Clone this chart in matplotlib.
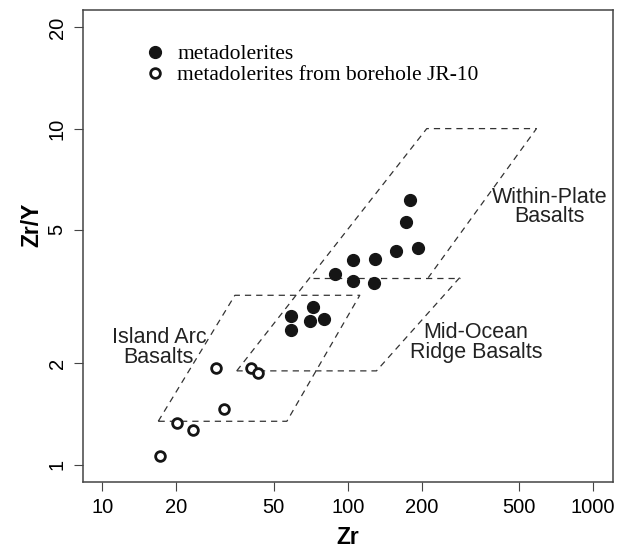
import matplotlib
matplotlib.use("Agg")
import matplotlib.pyplot as plt
import numpy as np

# metadolerites (filled)
zr_meta = [180, 173, 193, 157, 129, 105, 89, 105, 128, 59, 72, 59, 70, 80]
zry_meta = [6.11, 5.27, 4.42, 4.32, 4.10, 4.06, 3.68, 3.52, 3.48, 2.77, 2.95, 2.52, 2.67, 2.71]

# metadolerites from borehole JR-10 (open)
zr_jr = [29.0, 40.3, 43.2, 31.4, 20.1, 23.5, 17.2]
zry_jr = [1.94, 1.94, 1.87, 1.46, 1.33, 1.27, 1.06]

# field boundaries (Zr, Zr/Y)
wpb_x = [35.3, 210, 588, 213]
wpb_y = [1.90, 10, 10, 3.60]
wpb_morb_x = [72, 286]
wpb_morb_y = [3.60, 3.60]
morb_x = [286, 131, 35.3]
morb_y = [3.60, 1.90, 1.90]
iab_x = [16.9, 34.7, 112, 56.5, 16.9]
iab_y = [1.345, 3.19, 3.19, 1.345, 1.345]

xticks = [10, 20, 50, 100, 200, 500, 1000]
yticks = [1, 2, 5, 10, 20]

plt.rcParams['font.family'] = ['Liberation Sans', 'DejaVu Sans']

fig = plt.figure(figsize=(6.28, 5.5), dpi=100)
ax = fig.add_axes([82.7/628, 68/550, 530/628, 472/550])

# R-style 4% extension on log axes
def ext(lo, hi):
    a, b = np.log10(lo), np.log10(hi)
    d = (b - a) * 0.04
    return 10**(a - d), 10**(b + d)

dash = (0, (5, 4))
lc = '#333333'
for xs, ys in [(wpb_x, wpb_y), (wpb_morb_x, wpb_morb_y), (morb_x, morb_y), (iab_x, iab_y)]:
    ax.plot(xs, ys, linestyle=dash, color=lc, lw=0.9)

ax.plot(zr_meta, zry_meta, 'o', color='#151515', ms=8.5, mec='#151515',
        label='metadolerites', zorder=3)
ax.plot(zr_jr, zry_jr, 'o', mfc='white', mec='#151515', ms=7, mew=2.0,
        label='metadolerites from borehole JR-10', zorder=3)

ax.set_xscale('log')
ax.set_yscale('log')
ax.set_xlim(*ext(10, 1000))
ax.set_ylim(*ext(1, 20))
ax.set_xticks(xticks)
ax.set_xticklabels([str(v) for v in xticks])
ax.set_yticks(yticks)
ax.set_yticklabels([str(v) for v in yticks])
ax.minorticks_off()
ax.tick_params(axis='both', labelsize=14.5, length=6.5, width=0.8, color='#444444', pad=5)
ax.tick_params(axis='y', labelrotation=90)
for lab in ax.get_yticklabels():
    lab.set_va('center')

for s in ax.spines.values():
    s.set_color('#444444')
    s.set_linewidth(1.1)

ax.set_xlabel('Zr', fontsize=16.5, fontweight='bold', va='top')
ax.set_ylabel('Zr/Y', fontsize=16.5, fontweight='bold')
ax.xaxis.set_label_coords(0.5, -0.093)
ax.yaxis.set_label_coords(-0.074, 0.545)

ax.text(666, 5.84, 'Within-Plate\nBasalts', ha='center', va='center',
        fontsize=15.5, linespacing=0.9, color='#222222')
ax.text(333, 2.31, 'Mid-Ocean\nRidge Basalts', ha='center', va='center',
        fontsize=15.5, linespacing=0.9, color='#222222')
ax.text(17.0, 2.23, 'Island Arc\nBasalts', ha='center', va='center',
        fontsize=15.5, linespacing=0.9, color='#222222')

ax.legend(loc='upper left', bbox_to_anchor=(144/628, 1 - 44/550),
          bbox_transform=fig.transFigure, frameon=False,
          prop={'family': 'Liberation Serif', 'size': 15.5},
          handlelength=1.0, handletextpad=0.55, labelspacing=0.05,
          borderpad=0, borderaxespad=0)

fig.savefig('out.png', dpi=100)
